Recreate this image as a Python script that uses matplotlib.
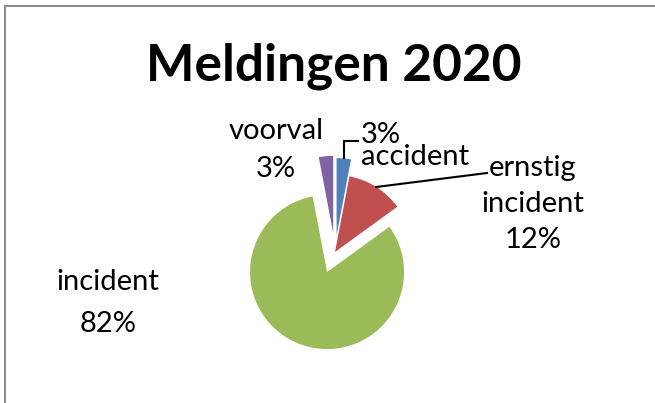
import matplotlib.pyplot as plt
from matplotlib.patches import Rectangle
import numpy as np

labels = ["accident", "ernstig\nincident", "incident", "voorval"]
values = [3, 12, 82, 3]
colors = ["#4F81BD", "#C0504D", "#9BBB59", "#8064A2"]
explode = [0.22, 0.0, 0.28, 0.25]

plt.rcParams['font.family'] = ['Lato', 'DejaVu Sans']

W, H = 655, 403
fig = plt.figure(figsize=(W / 100, H / 100), dpi=100)
fig.patch.set_facecolor("white")

# pie centre and radius in pixels
cx, cy, r = 335, 252, 77
ax = fig.add_axes([0, 0, 1, 1])
wedges, _ = ax.pie(values, colors=colors, explode=explode, startangle=90,
                   counterclock=False, radius=1,
                   wedgeprops=dict(edgecolor="none", linewidth=0))
ax.set_xlim(-cx / r, (W - cx) / r)
ax.set_ylim(-(H - cy) / r, cy / r)
ax.set_aspect("equal")
ax.axis("off")

def px(x, y):
    return ((x - cx) / r, (cy - y) / r)

def tip(w, k=1.0):
    a = np.deg2rad((w.theta1 + w.theta2) / 2)
    return (w.center[0] + k * np.cos(a), w.center[1] + k * np.sin(a))

fs = 21
txt = dict(fontsize=fs, color="black")

# accident label with elbow leader line
t0 = tip(wedges[0])
corner = (t0[0], px(0, 141)[1])
end = px(358, 141)
ax.plot([t0[0], corner[0], end[0]], [t0[1], corner[1], end[1]], color="black", lw=1.5,
        solid_joinstyle="miter")
ax.text(*px(361, 146), "3%\n" + labels[0], ha="left", va="center", linespacing=0.8, **txt)

# ernstig incident label with leader line
t1 = tip(wedges[1])
end = px(487, 173)
ax.plot([t1[0], end[0]], [t1[1], end[1]], color="black", lw=1.5)
ax.text(*px(533, 204), labels[1] + "\n12%", ha="center", va="center", linespacing=1.48, **txt)

# voorval and incident
ax.text(*px(276, 150), labels[3] + "\n3%", ha="center", va="center", linespacing=1.6, **txt)
ax.text(*px(108, 303), labels[2] + "\n82%", ha="center", va="center", linespacing=1.76, **txt)

fig.text(0.509, 1 - 66 / H, "Meldingen 2020", ha="center", va="center",
         fontsize=37, fontweight="bold", color="black")

fig.patches.append(Rectangle((5 / W, -0.1), 1.2, 1 - 6 / H + 0.1, transform=fig.transFigure,
                             facecolor="none", edgecolor="#8c8c8c", lw=1.5))

fig.savefig("out.png", dpi=100)
